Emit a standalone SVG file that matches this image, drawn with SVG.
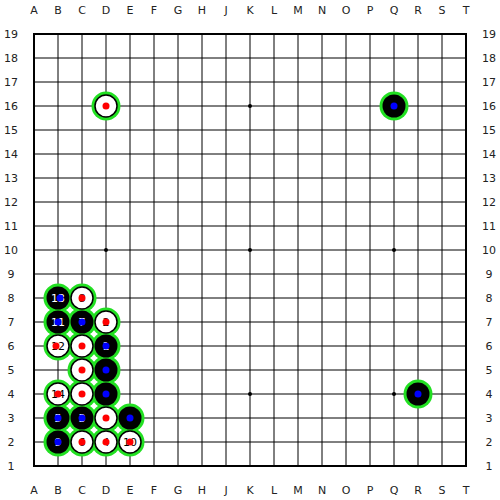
<svg xmlns="http://www.w3.org/2000/svg" width="500" height="500" viewBox="0 0 500 500">
<style>
.g{stroke:#000;stroke-width:1;fill:none}
.b{stroke:#000;stroke-width:2;fill:none}
.lbl{font-family:"DejaVu Sans",sans-serif;font-size:11px;fill:#222;text-anchor:middle}
.ring{fill:#22e022}
.bs{fill:#000}
.ws{fill:#fff;stroke:#000;stroke-width:1.5}
.bd{fill:#0000ff}
.rd{fill:#ff0000}
.nb{font-family:"DejaVu Sans",sans-serif;font-size:11px;fill:#fff;text-anchor:middle}
.nw{font-family:"DejaVu Sans",sans-serif;font-size:11px;fill:#000;text-anchor:middle}
</style>
<rect width="500" height="500" fill="#fff"/>
<g id="grid">
<path class="g" d="M58 34V466M82 34V466M106 34V466M130 34V466M154 34V466M178 34V466M202 34V466M226 34V466M250 34V466M274 34V466M298 34V466M322 34V466M346 34V466M370 34V466M394 34V466M418 34V466M442 34V466"/>
<path class="g" d="M34 58H466M34 82H466M34 106H466M34 130H466M34 154H466M34 178H466M34 202H466M34 226H466M34 250H466M34 274H466M34 298H466M34 322H466M34 346H466M34 370H466M34 394H466M34 418H466M34 442H466"/>
<rect class="b" x="34" y="34" width="432" height="432"/>
<g fill="#000">
<circle cx="106" cy="394" r="2"/><circle cx="250" cy="394" r="2"/><circle cx="394" cy="394" r="2"/>
<circle cx="106" cy="250" r="2"/><circle cx="250" cy="250" r="2"/><circle cx="394" cy="250" r="2"/>
<circle cx="106" cy="106" r="2"/><circle cx="250" cy="106" r="2"/><circle cx="394" cy="106" r="2"/>
</g>
</g>
<g id="labels" class="lbl">
<text x="34" y="14">A</text><text x="58" y="14">B</text><text x="82" y="14">C</text><text x="106" y="14">D</text><text x="130" y="14">E</text><text x="154" y="14">F</text><text x="178" y="14">G</text><text x="202" y="14">H</text><text x="226" y="14">J</text><text x="250" y="14">K</text><text x="274" y="14">L</text><text x="298" y="14">M</text><text x="322" y="14">N</text><text x="346" y="14">O</text><text x="370" y="14">P</text><text x="394" y="14">Q</text><text x="418" y="14">R</text><text x="442" y="14">S</text><text x="466" y="14">T</text>
<text x="34" y="494">A</text><text x="58" y="494">B</text><text x="82" y="494">C</text><text x="106" y="494">D</text><text x="130" y="494">E</text><text x="154" y="494">F</text><text x="178" y="494">G</text><text x="202" y="494">H</text><text x="226" y="494">J</text><text x="250" y="494">K</text><text x="274" y="494">L</text><text x="298" y="494">M</text><text x="322" y="494">N</text><text x="346" y="494">O</text><text x="370" y="494">P</text><text x="394" y="494">Q</text><text x="418" y="494">R</text><text x="442" y="494">S</text><text x="466" y="494">T</text>
<text x="11" y="38">19</text><text x="11" y="62">18</text><text x="11" y="86">17</text><text x="11" y="110">16</text><text x="11" y="134">15</text><text x="11" y="158">14</text><text x="11" y="182">13</text><text x="11" y="206">12</text><text x="11" y="230">11</text><text x="11" y="254">10</text><text x="11" y="278">9</text><text x="11" y="302">8</text><text x="11" y="326">7</text><text x="11" y="350">6</text><text x="11" y="374">5</text><text x="11" y="398">4</text><text x="11" y="422">3</text><text x="11" y="446">2</text><text x="11" y="470">1</text>
<text x="489" y="38">19</text><text x="489" y="62">18</text><text x="489" y="86">17</text><text x="489" y="110">16</text><text x="489" y="134">15</text><text x="489" y="158">14</text><text x="489" y="182">13</text><text x="489" y="206">12</text><text x="489" y="230">11</text><text x="489" y="254">10</text><text x="489" y="278">9</text><text x="489" y="302">8</text><text x="489" y="326">7</text><text x="489" y="350">6</text><text x="489" y="374">5</text><text x="489" y="398">4</text><text x="489" y="422">3</text><text x="489" y="446">2</text><text x="489" y="470">1</text>
</g>
<g id="rings" class="ring">
<circle cx="106" cy="106" r="14.5"/><circle cx="394" cy="106" r="14.5"/><circle cx="418" cy="394" r="14.5"/>
<circle cx="58" cy="298" r="14.5"/><circle cx="82" cy="298" r="14.5"/>
<circle cx="58" cy="322" r="14.5"/><circle cx="82" cy="322" r="14.5"/><circle cx="106" cy="322" r="14.5"/>
<circle cx="58" cy="346" r="14.5"/><circle cx="82" cy="346" r="14.5"/><circle cx="106" cy="346" r="14.5"/>
<circle cx="82" cy="370" r="14.5"/><circle cx="106" cy="370" r="14.5"/>
<circle cx="58" cy="394" r="14.5"/><circle cx="82" cy="394" r="14.5"/><circle cx="106" cy="394" r="14.5"/>
<circle cx="58" cy="418" r="14.5"/><circle cx="82" cy="418" r="14.5"/><circle cx="106" cy="418" r="14.5"/><circle cx="130" cy="418" r="14.5"/>
<circle cx="58" cy="442" r="14.5"/><circle cx="82" cy="442" r="14.5"/><circle cx="106" cy="442" r="14.5"/><circle cx="130" cy="442" r="14.5"/>
</g>
<g id="D16"><circle class="ws" cx="106" cy="106" r="11"/><circle class="rd" cx="106" cy="106" r="3.5"/></g>
<g id="Q16"><circle class="bs" cx="394" cy="106" r="11.5"/><circle class="bd" cx="394" cy="106" r="3.5"/></g>
<g id="R4"><circle class="bs" cx="418" cy="394" r="11.5"/><circle class="bd" cx="418" cy="394" r="3.5"/></g>
<g id="B8"><circle class="bs" cx="58" cy="298" r="11.5"/><text class="nb" x="58" y="302">13</text><circle class="bd" cx="60" cy="298" r="3.5"/></g>
<g id="C8"><circle class="ws" cx="82" cy="298" r="11"/><text class="nw" x="82" y="302">8</text><circle class="rd" cx="82" cy="298" r="3.5"/></g>
<g id="B7"><circle class="bs" cx="58" cy="322" r="11.5"/><text class="nb" x="58" y="326">11</text><circle class="bd" cx="58" cy="322" r="3.5"/></g>
<g id="C7"><circle class="bs" cx="82" cy="322" r="11.5"/><text class="nb" x="82" y="326">7</text><circle class="bd" cx="82" cy="322" r="3.5"/></g>
<g id="D7"><circle class="ws" cx="106" cy="322" r="11"/><text class="nw" x="106" y="326">2</text><circle class="rd" cx="106" cy="322" r="3.5"/></g>
<g id="B6"><circle class="ws" cx="58" cy="346" r="11"/><text class="nw" x="58" y="350">12</text><circle class="rd" cx="56" cy="346" r="3.5"/></g>
<g id="C6"><circle class="ws" cx="82" cy="346" r="11"/><circle class="rd" cx="82" cy="346" r="3.5"/></g>
<g id="D6"><circle class="bs" cx="106" cy="346" r="11.5"/><text class="nb" x="106" y="350">1</text><circle class="bd" cx="106" cy="346" r="3.5"/></g>
<g id="C5"><circle class="ws" cx="82" cy="370" r="11"/><circle class="rd" cx="82" cy="370" r="3.5"/></g>
<g id="D5"><circle class="bs" cx="106" cy="370" r="11.5"/><circle class="bd" cx="106" cy="370" r="3.5"/></g>
<g id="B4"><circle class="ws" cx="58" cy="394" r="11"/><text class="nw" x="58" y="398">14</text><circle class="rd" cx="58" cy="394" r="3.5"/></g>
<g id="C4"><circle class="ws" cx="82" cy="394" r="11"/><circle class="rd" cx="82" cy="394" r="3.5"/></g>
<g id="D4"><circle class="bs" cx="106" cy="394" r="11.5"/><circle class="bd" cx="106" cy="394" r="3.5"/></g>
<g id="B3"><circle class="bs" cx="58" cy="418" r="11.5"/><text class="nb" x="58" y="422">5</text><circle class="bd" cx="58" cy="418" r="3.5"/></g>
<g id="C3"><circle class="bs" cx="82" cy="418" r="11.5"/><text class="nb" x="82" y="422">3</text><circle class="bd" cx="82" cy="418" r="3.5"/></g>
<g id="D3"><circle class="ws" cx="106" cy="418" r="11"/><circle class="rd" cx="106" cy="418" r="3.5"/></g>
<g id="E3"><circle class="bs" cx="130" cy="418" r="11.5"/><circle class="bd" cx="130" cy="418" r="3.5"/></g>
<g id="B2"><circle class="bs" cx="58" cy="442" r="11.5"/><text class="nb" x="58" y="446">9</text><circle class="bd" cx="58" cy="442" r="3.5"/></g>
<g id="C2"><circle class="ws" cx="82" cy="442" r="11"/><text class="nw" x="82" y="446">6</text><circle class="rd" cx="82" cy="442" r="3.5"/></g>
<g id="D2"><circle class="ws" cx="106" cy="442" r="11"/><text class="nw" x="106" y="446">4</text><circle class="rd" cx="106" cy="442" r="3.5"/></g>
<g id="E2"><circle class="ws" cx="130" cy="442" r="11"/><text class="nw" x="130" y="446">10</text><circle class="rd" cx="130" cy="442" r="3.5"/></g>
</svg>
